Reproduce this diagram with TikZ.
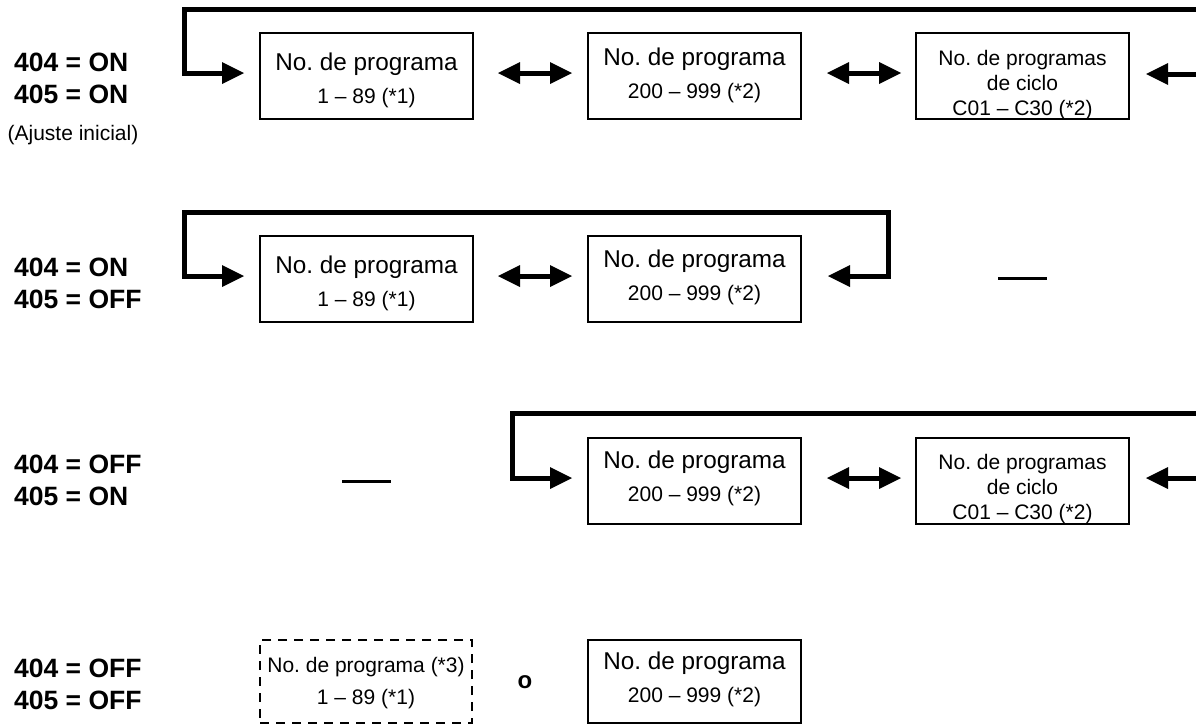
\documentclass[tikz,border=0pt]{standalone}
\usepackage{fontspec}
\setmainfont{Liberation Sans}
\usetikzlibrary{arrows.meta,calc}
\frenchspacing
\begin{document}
\begin{tikzpicture}[x=1pt,y=-1pt,
  >={Triangle[length=22pt,width=22pt,line width=0pt]},
  box/.style={draw,line width=2pt,minimum width=213pt,minimum height=86pt,inner sep=0pt},
  dbox/.style={box,dash pattern=on 9pt off 7pt,minimum width=212pt,minimum height=83pt},
  lbox/.style={box,minimum height=83pt},
  txt/.style={align=center,inner sep=0pt,font=\fontsize{24.3}{33}\selectfont},
  ctxt/.style={align=center,inner sep=0pt,font=\fontsize{21}{25}\selectfont},
  dtxt/.style={align=center,inner sep=0pt,font=\fontsize{21}{32}\selectfont},
  lbl/.style={align=left,anchor=west,inner sep=0pt,font=\fontsize{26.5}{32}\selectfont\bfseries},
  cyc/.style={line width=5pt,line join=miter,<->},
  dbl/.style={line width=5pt,<->},
  nadash/.style={line width=3pt}
]
\useasboundingbox (0,0) rectangle (1196,724);

% condition labels
\node[lbl] (L1) at (14,78.5) {404 = ON\\405 = ON};
\node[ctxt] (aj) at (73,135) {(Ajuste inicial)};
\node[lbl] (L2) at (14,283.5) {404 = ON\\405 = OFF};
\node[lbl] (L3) at (14,480) {404 = OFF\\405 = ON};
\node[lbl] (L4) at (14,684) {404 = OFF\\405 = OFF};

% row 1
\node[box] (b11) at (366.5,76) {};
\node[txt] (t11) at ($(b11.center)+(0,4)$) {No. de programa\\{\fontsize{21}{33}\selectfont 1 – 89 (*1)}};
\node[box] (b12) at (694.5,76) {};
\node[txt] (t12) at ($(b12.center)+(0,-1)$) {No. de programa\\{\fontsize{21}{33}\selectfont 200 – 999 (*2)}};
\node[box] (b13) at (1022.5,76) {};
\node[ctxt] (t13) at ($(b13.center)+(0,9)$) {No. de programas\\de ciclo\\C01 – C30 (*2)};

\draw[dbl] ($(b11.east)+(24,-3)$) -- ($(b12.west)+(-15,-3)$);
\draw[dbl] ($(b12.east)+(25,-3)$) -- ($(b13.west)+(-14,-3)$);
\draw[cyc] ($(b13.east)+(16,-2)$) -| (1205,9) -| ($(b11.west)+(-75,-3)$) -- ($(b11.west)+(-15,-3)$);

% row 2
\node[box] (b21) at (366.5,279) {};
\node[txt] (t21) at ($(b21.center)+(0,4)$) {No. de programa\\{\fontsize{21}{33}\selectfont 1 – 89 (*1)}};
\node[box] (b22) at (694.5,279) {};
\node[txt] (t22) at ($(b22.center)+(0,-2)$) {No. de programa\\{\fontsize{21}{33}\selectfont 200 – 999 (*2)}};
\draw[dbl] ($(b21.east)+(24,-3)$) -- ($(b22.west)+(-15,-3)$);
\draw[cyc] ($(b22.east)+(26,-3)$) -| ($(b22.east)+(86,-67)$) -| ($(b21.west)+(-75,-3)$) -- ($(b21.west)+(-15,-3)$);
\coordinate (n2a) at (998,278);
\coordinate (n2b) at (1047,278);
\draw[nadash] (n2a) -- (n2b);

% row 3
\coordinate (n3a) at (342,481);
\coordinate (n3b) at (391,481);
\draw[nadash] (n3a) -- (n3b);
\node[box] (b31) at (694.5,480.5) {};
\node[txt] (t31) at ($(b31.center)+(0,-2)$) {No. de programa\\{\fontsize{21}{33}\selectfont 200 – 999 (*2)}};
\node[box] (b32) at (1022.5,480.5) {};
\node[ctxt] (t32) at ($(b32.center)+(0,9)$) {No. de programas\\de ciclo\\C01 – C30 (*2)};
\draw[dbl] ($(b31.east)+(25,-2.5)$) -- ($(b32.west)+(-14,-2.5)$);
\draw[cyc] ($(b32.east)+(16,-2.5)$) -| (1205,413) -| ($(b31.west)+(-75,-2.5)$) -- ($(b31.west)+(-15,-2.5)$);

% row 4
\node[dbox] (b41) at (366,681.5) {};
\node[dtxt] (t41) at ($(b41.center)+(0,1.5)$) {No. de programa (*3)\\1 – 89 (*1)};
\node[font=\fontsize{24}{24}\selectfont\bfseries,inner sep=0pt] (o) at (525,682) {o};
\node[lbox] (b42) at (694.5,681.5) {};
\node[txt] (t42) at ($(b42.center)+(0,-2)$) {No. de programa\\{\fontsize{21}{33}\selectfont 200 – 999 (*2)}};
\end{tikzpicture}
\end{document}
